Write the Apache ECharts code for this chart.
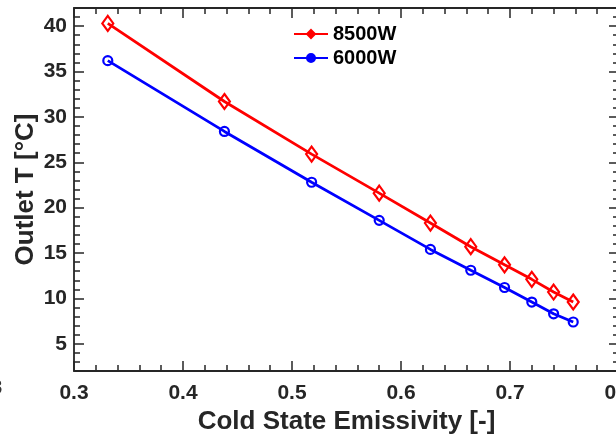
<!DOCTYPE html>
<html>
<head>
<meta charset="utf-8">
<script src="https://cdn.jsdelivr.net/npm/echarts@6/dist/echarts.min.js"></script>
<style>
  html, body { margin: 0; padding: 0; background: #fff; }
  #chart { width: 616px; height: 437px; }
</style>
</head>
<body>
<div id="chart"></div>
<script>
// Cold-state emissivity sweep and the resulting outlet temperature
const emissivity = [0.331, 0.438, 0.518, 0.580, 0.627, 0.664, 0.695, 0.720, 0.740, 0.758];
const outlet8500 = [40.3, 31.7, 25.9, 21.6, 18.3, 15.7, 13.7, 12.1, 10.7, 9.6];
const outlet6000 = [36.2, 28.4, 22.8, 18.6, 15.4, 13.1, 11.2, 9.6, 8.3, 7.4];
const seriesNames = ['8500W', '6000W'];
const seriesColors = ['#ff0000', '#0000ff'];
const yTickValues = [5, 10, 15, 20, 25, 30, 35, 40];

const axisColor = '#262626';
const font = 'Liberation Sans, Arial, sans-serif';

const chart = echarts.init(document.getElementById('chart'), null, { renderer: 'canvas' });

function pairs(xs, ys) { return xs.map((x, i) => [x, ys[i]]); }

const tickLine = { color: axisColor, width: 1.5 };
const majorLen = 10, minorLen = 6;

const xBase = {
  type: 'value', min: 0.3, max: 0.8, interval: 0.1,
  axisLine: { show: true, onZero: false, lineStyle: { color: axisColor, width: 1.8 } },
  axisTick: { show: true, inside: true, length: majorLen, lineStyle: tickLine },
  minorTick: { show: true, splitNumber: 5, length: minorLen, lineStyle: tickLine },
  splitLine: { show: false }
};

function yMajor(pos, labels) {
  return {
    type: 'value', position: pos, min: 2, max: 42, interval: 1,
    name: labels ? 'Outlet T [°C]' : '',
    nameLocation: 'middle', nameGap: 35, nameMoveOverlap: false,
    nameTextStyle: { fontFamily: font, fontWeight: 'bold', fontSize: 26, color: axisColor },
    axisLine: { show: true, onZero: false, lineStyle: { color: axisColor, width: 1.8 } },
    axisTick: { show: true, inside: true, length: majorLen, customValues: yTickValues, lineStyle: tickLine },
    axisLabel: labels ? {
      show: true, customValues: yTickValues, margin: 7,
      fontFamily: font, fontWeight: 'bold', fontSize: 21, color: axisColor
    } : { show: false },
    splitLine: { show: false }
  };
}
function yMinor(pos) {
  return {
    type: 'value', position: pos, min: 2, max: 42, interval: 1,
    axisLine: { show: false, onZero: false },
    axisTick: { show: true, inside: true, length: minorLen, lineStyle: tickLine },
    axisLabel: { show: false },
    splitLine: { show: false }
  };
}

const option = {
  backgroundColor: '#ffffff',
  animation: false,
  grid: { left: 74, right: -3, top: 8, bottom: 66, containLabel: false, outerBoundsMode: 'none' },
  legend: {
    left: 288, top: 19, orient: 'vertical',
    itemWidth: 34, itemHeight: 10, itemGap: 4,
    textStyle: { fontFamily: font, fontWeight: 'bold', fontSize: 20, color: '#000', lineHeight: 20 },
    data: seriesNames.map((n, i) => ({ name: n, itemStyle: { color: seriesColors[i], borderColor: seriesColors[i] } }))
  },
  xAxis: [
    Object.assign({}, xBase, {
      position: 'bottom',
      name: 'Cold State Emissivity [-]', nameLocation: 'middle', nameGap: 38,
      nameTextStyle: { fontFamily: font, fontWeight: 'bold', fontSize: 26, color: axisColor },
      axisLabel: { show: true, margin: 12, showMaxLabel: true, fontFamily: font, fontWeight: 'bold', fontSize: 21, color: axisColor }
    }),
    Object.assign({}, xBase, { position: 'top', axisLabel: { show: false } })
  ],
  yAxis: [yMajor('left', true), yMinor('left'), yMajor('right', false), yMinor('right')],
  graphic: [{
    type: 'text', left: -9, top: 378,
    style: { text: '8', fontFamily: font, fontWeight: 'bold', fontSize: 20, fill: '#333' }
  }],
  series: [
    {
      name: seriesNames[0], type: 'line', xAxisIndex: 0, yAxisIndex: 0,
      data: pairs(emissivity, outlet8500),
      symbol: 'diamond', symbolSize: [11, 15],
      lineStyle: { color: seriesColors[0], width: 2.8 },
      itemStyle: { color: 'rgba(255,255,255,0)', borderColor: seriesColors[0], borderWidth: 2.2 },
      emphasis: { disabled: true }
    },
    {
      name: seriesNames[1], type: 'line', xAxisIndex: 0, yAxisIndex: 0,
      data: pairs(emissivity, outlet6000),
      symbol: 'circle', symbolSize: 9,
      lineStyle: { color: seriesColors[1], width: 2.8 },
      itemStyle: { color: 'rgba(255,255,255,0)', borderColor: seriesColors[1], borderWidth: 2.2 },
      emphasis: { disabled: true }
    }
  ]
};
chart.setOption(option);
</script>
</body>
</html>
